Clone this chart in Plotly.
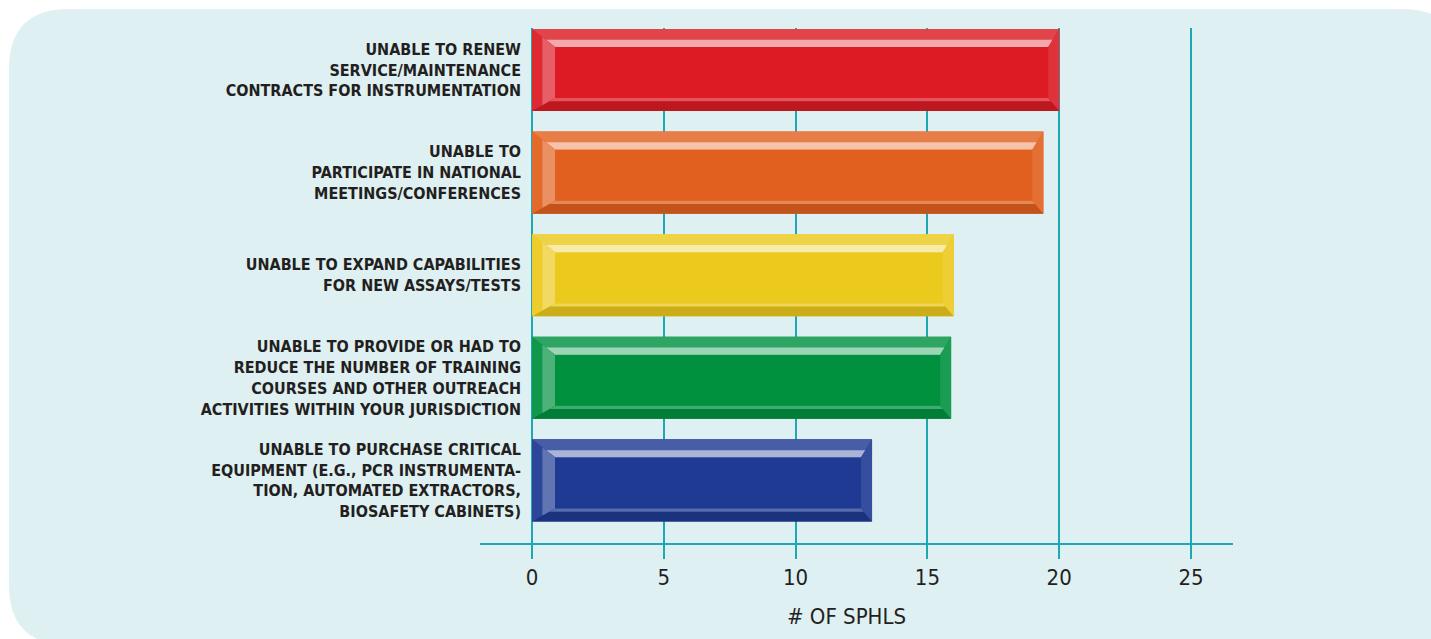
import plotly.graph_objects as go

# data
categories = [
    "UNABLE TO RENEW<br>SERVICE/MAINTENANCE<br>CONTRACTS FOR INSTRUMENTATION",
    "UNABLE TO<br>PARTICIPATE IN NATIONAL<br>MEETINGS/CONFERENCES",
    "UNABLE TO EXPAND CAPABILITIES<br>FOR NEW ASSAYS/TESTS",
    "UNABLE TO PROVIDE OR HAD TO<br>REDUCE THE NUMBER OF TRAINING<br>COURSES AND OTHER OUTREACH<br>ACTIVITIES WITHIN YOUR JURISDICTION",
    "UNABLE TO PURCHASE CRITICAL<br>EQUIPMENT (E.G., PCR INSTRUMENTA-<br>TION, AUTOMATED EXTRACTORS,<br>BIOSAFETY CABINETS)",
]
values = [20, 19.4, 16, 15.9, 12.9]
bar_colors = ["#dc1b24", "#e2601f", "#ecc91d", "#00913f", "#1f3a92"]
x_ticks = [0, 5, 10, 15, 20, 25]
x_title = "# OF SPHLS"

W, H = 1431, 639
PL, PR, PT, PB = 522, 1233, 28, 544   # plot area in px
SX = 26.36                            # px per unit on x
SY = 102.6                            # px per category on y
FONT = "Liberation Sans Narrow, DejaVu Sans Condensed, Arial Narrow, sans-serif"
TXT = "#231f20"
GRID = "#1ea8b4"
BG = "#dff0f3"

ypos = list(range(len(categories)))
x_lo = -(532 - PL) / SX
x_hi = x_lo + (PR - PL) / SX
y_top = -(70 - PT) / SY
y_bot = y_top + (PB - PT) / SY


def mix(c, other, t):
    a = [int(c[i:i + 2], 16) for i in (1, 3, 5)]
    b = [int(other[i:i + 2], 16) for i in (1, 3, 5)]
    return "#" + "".join("%02x" % round(a[k] + (b[k] - a[k]) * t) for k in range(3))


fig = go.Figure()
fig.add_trace(go.Bar(x=values, y=ypos, orientation="h", width=0.8,
                     marker=dict(color=bar_colors, line=dict(width=0)),
                     hoverinfo="skip", showlegend=False))

# bevel edges, sizes in px converted to data units
half = 0.4
bl, br = 23 / SX, 11 / SX
bt, bb = 18 / SY, 13 / SY


def poly(xs, ys, color):
    fig.add_trace(go.Scatter(x=xs + [xs[0]], y=ys + [ys[0]], fill="toself", mode="lines",
                             fillcolor=color, line=dict(width=0, color=color),
                             hoverinfo="skip", showlegend=False))


for v, yc, c in zip(values, ypos, bar_colors):
    top, bot = yc - half, yc + half
    # top bevel
    poly([0, v, v - br, bl], [top, top, top + bt, top + bt], mix(c, "#ffffff", 0.18))
    f = 0.6
    poly([bl * f, v - br * f, v - br, bl], [top + bt * f, top + bt * f, top + bt, top + bt],
         mix(c, "#ffffff", 0.62))
    # bottom bevel
    poly([0, v, v - br, bl], [bot, bot, bot - bb, bot - bb], mix(c, "#000000", 0.14))
    poly([bl * 0.75, v - br * 0.75, v - br, bl], [bot - bb * 0.75, bot - bb * 0.75, bot - bb, bot - bb],
         mix(c, "#ffffff", 0.25))
    # left bevel
    poly([0, bl, bl, 0], [top, top + bt, bot - bb, bot], mix(c, "#ffffff", 0.06))
    g = 0.45
    poly([bl * g, bl, bl, bl * g], [top + bt * g, top + bt, bot - bb, bot - bb * g],
         mix(c, "#ffffff", 0.3))
    # right bevel
    poly([v, v, v - br, v - br], [top, bot, bot - bb, top + bt], mix(c, "#ffffff", 0.1))


# px -> paper coords
def px(x):
    return (x - PL) / (PR - PL)


def py(y):
    return (PB - y) / (PB - PT)


# rounded background panel
r = 60
l0, t0, r0, b0 = 9, 9, 1462, 645
pts = [("M", l0 + r, t0), ("L", r0 - r, t0), ("Q", r0, t0, r0, t0 + r), ("L", r0, b0 - r),
       ("Q", r0, b0, r0 - r, b0), ("L", l0 + r, b0), ("Q", l0, b0, l0, b0 - r),
       ("L", l0, t0 + r), ("Q", l0, t0, l0 + r, t0)]
path = ""
for p in pts:
    cmd, coords = p[0], p[1:]
    path += cmd + " " + " ".join("%.5f,%.5f" % (px(coords[i]), py(coords[i + 1]))
                                 for i in range(0, len(coords), 2)) + " "
path += "Z"

fig.update_layout(
    width=W, height=H,
    margin=dict(l=PL, r=W - PR, t=PT, b=H - PB, pad=0),
    paper_bgcolor="#ffffff", plot_bgcolor="rgba(0,0,0,0)",
    font=dict(family=FONT, color=TXT),
    bargap=0.2,
    shapes=[
        dict(type="path", xref="paper", yref="paper", path=path, fillcolor=BG,
             line=dict(width=0), layer="below"),
        dict(type="line", xref="paper", yref="paper", x0=px(480), x1=1, y0=0, y1=0,
             line=dict(color=GRID, width=2), layer="above"),
    ],
    annotations=[
        dict(text=x_title, xref="paper", yref="paper", x=px(846), y=py(616),
             xanchor="center", yanchor="middle",
             showarrow=False, font=dict(size=22, color=TXT, family=FONT)),
    ],
    xaxis=dict(range=[x_lo, x_hi], tickvals=x_ticks, showgrid=True, gridcolor=GRID,
               gridwidth=1.5, zeroline=False, showline=False, ticks="outside",
               ticklen=14, tickcolor=GRID, tickwidth=1.5,
               tickfont=dict(size=22, color=TXT)),
    yaxis=dict(range=[y_bot, y_top], tickvals=ypos, ticktext=categories, showgrid=False,
               zeroline=False, showline=False, ticks="", fixedrange=True,
               tickfont=dict(size=16, color=TXT, weight="bold")),
)

# drop the page margin so the figure fills the window edge to edge
fig.write_html("out.html", config={"displayModeBar": False},
               post_script="document.body.style.margin='0';document.body.style.overflow='hidden';")
